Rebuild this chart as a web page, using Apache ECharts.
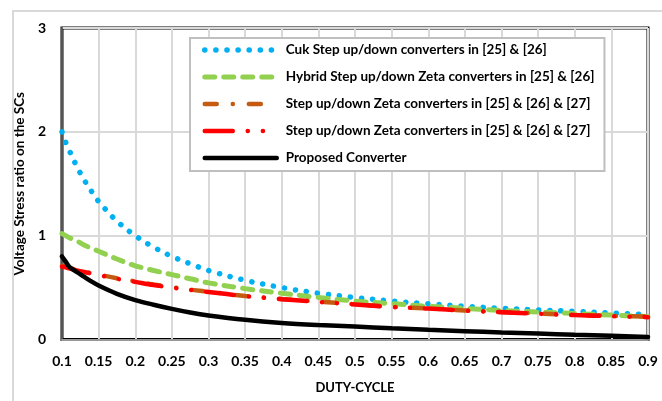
<!DOCTYPE html>
<html>
<head>
<meta charset="utf-8">
<script src="https://cdn.jsdelivr.net/npm/echarts@6/dist/echarts.min.js"></script>
<style>
  html, body { margin: 0; padding: 0; background: #fff; }
  #chart { width: 662px; height: 401px; }
</style>
</head>
<body>
<div id="chart"></div>
<script>
// Duty-cycle sample points shared by all curves
const dutyCycle = [0.1, 0.105, 0.11, 0.12, 0.13, 0.14, 0.15, 0.175, 0.2, 0.225, 0.25, 0.275, 0.3,
  0.35, 0.4, 0.45, 0.5, 0.55, 0.6, 0.65, 0.7, 0.75, 0.8, 0.85, 0.9];

// Voltage stress ratio on the SCs for each converter
const cukStress = [2.0, 1.9, 1.82, 1.67, 1.54, 1.43, 1.33, 1.14, 1.0, 0.89, 0.8, 0.73, 0.665,
  0.57, 0.5, 0.445, 0.405, 0.37, 0.345, 0.32, 0.30, 0.285, 0.27, 0.255, 0.24];
const hybridZetaStress = [1.02, 1.0, 0.98, 0.95, 0.91, 0.88, 0.85, 0.775, 0.71, 0.665, 0.625, 0.585, 0.545,
  0.49, 0.445, 0.405, 0.37, 0.345, 0.32, 0.30, 0.28, 0.265, 0.25, 0.235, 0.22];
const zetaStressA = [0.71, 0.70, 0.69, 0.67, 0.655, 0.64, 0.625, 0.59, 0.56, 0.53, 0.505, 0.48, 0.46,
  0.42, 0.39, 0.365, 0.34, 0.315, 0.30, 0.28, 0.265, 0.25, 0.237, 0.228, 0.22];
const zetaStressB = [0.70, 0.695, 0.685, 0.665, 0.65, 0.635, 0.62, 0.585, 0.555, 0.525, 0.50, 0.478, 0.458,
  0.418, 0.388, 0.362, 0.338, 0.313, 0.298, 0.278, 0.263, 0.248, 0.235, 0.225, 0.215];
const proposedStress = [0.80, 0.75, 0.70, 0.65, 0.605, 0.56, 0.52, 0.44, 0.38, 0.335, 0.295, 0.26, 0.232,
  0.19, 0.16, 0.14, 0.125, 0.108, 0.093, 0.08, 0.068, 0.057, 0.045, 0.035, 0.025];

// The two Zeta curves share a caption; a zero-width space keeps their legend keys distinct
const seriesNames = [
  'Cuk Step up/down converters in [25] & [26]',
  'Hybrid Step up/down Zeta converters in [25] & [26]',
  'Step up/down Zeta converters in [25] & [26] & [27]',
  'Step up/down Zeta converters in [25] & [26] & [27]\u200b',
  'Proposed Converter'
];

const xTickLabels = ['0.1', '0.15', '0.2', '0.25', '0.3', '0.35', '0.4', '0.45', '0.5',
  '0.55', '0.6', '0.65', '0.7', '0.75', '0.8', '0.85', '0.9'];
const yTickLabels = ['0', '1', '2', '3'];

const FONT = 'Lato';

const lineStyles = [
  { color: '#00b0f0', width: 5.5, type: [0.1, 11], cap: 'round' },
  { color: '#92d050', width: 5, type: [10, 9], cap: 'round' },
  { color: '#c55a11', width: 4.5, type: [12, 16, 0.1, 16], cap: 'round' },
  { color: '#ff0000', width: 4.5, type: [28, 15, 0.1, 15, 0.1, 15], cap: 'round' },
  { color: '#000000', width: 4.5, type: 'solid', cap: 'round' }
];
const seriesValues = [cukStress, hybridZetaStress, zetaStressA, zetaStressB, proposedStress];

function pairs(values) {
  return dutyCycle.map((d, i) => [d, values[i]]);
}

const chart = echarts.init(document.getElementById('chart'), null, { renderer: 'canvas' });

chart.setOption({
  animation: false,
  backgroundColor: '#fff',
  graphic: [{
    type: 'rect',
    z: -10,
    shape: { x: 13, y: 11, width: 700, height: 440 },
    style: { fill: 'none', stroke: '#d9d9d9', lineWidth: 2 }
  }],
  grid: {
    left: 62, top: 28, right: 14, bottom: 61.5,
    show: true,
    borderColor: '#000',
    borderWidth: 3
  },
  legend: {
    orient: 'vertical',
    left: 190,
    top: 38,
    padding: [5, 10, 6, 12],
    itemWidth: 72,
    itemHeight: 14,
    itemGap: 13,
    borderColor: '#bfbfbf',
    borderWidth: 2,
    backgroundColor: '#fff',
    selectedMode: false,
    itemStyle: { opacity: 0 },
    textStyle: { fontFamily: FONT, fontWeight: 'bold', fontSize: 13.5, color: '#000', padding: [0, 0, 0, 4] },
    formatter: name => name.replace('\u200b', ''),
    data: seriesNames.map((name, i) => ({ name: name, lineStyle: Object.assign({}, lineStyles[i]) }))
  },
  xAxis: {
    type: 'value',
    min: 0.1,
    max: 0.9,
    interval: 0.05,
    name: 'DUTY-CYCLE',
    nameLocation: 'middle',
    nameGap: 42,
    nameTextStyle: { fontFamily: FONT, fontWeight: 'bold', fontSize: 13, color: '#000' },
    axisLine: { show: true, lineStyle: { color: '#999', width: 2 } },
    axisTick: { show: false },
    axisLabel: {
      fontFamily: FONT, fontWeight: 'bold', fontSize: 14, color: '#000', margin: 15,
      formatter: v => xTickLabels[Math.round((v - 0.1) / 0.05)] || ''
    },
    splitLine: { show: true, lineStyle: { color: '#d9d9d9', width: 2 } }
  },
  yAxis: {
    type: 'value',
    min: 0,
    max: 3,
    interval: 1,
    name: 'Voltage Stress ratio on the SCs',
    nameLocation: 'middle',
    nameRotate: 90,
    nameGap: 28,
    nameTextStyle: { fontFamily: FONT, fontWeight: 'bold', fontSize: 13.5, color: '#000' },
    axisLine: { show: true, lineStyle: { color: '#555', width: 2 } },
    axisTick: { show: false },
    axisLabel: {
      fontFamily: FONT, fontWeight: 'bold', fontSize: 14, color: '#000', margin: 16,
      formatter: v => yTickLabels[Math.round(v)] || ''
    },
    splitLine: { show: true, lineStyle: { color: '#d9d9d9', width: 2 } }
  },
  series: seriesNames.map((name, i) => ({
    name: name,
    type: 'line',
    data: pairs(seriesValues[i]),
    smooth: 0.35,
    symbol: 'none',
    showSymbol: false,
    itemStyle: { color: lineStyles[i].color },
    lineStyle: lineStyles[i],
    silent: true,
    animation: false
  }))
});
</script>
</body>
</html>
